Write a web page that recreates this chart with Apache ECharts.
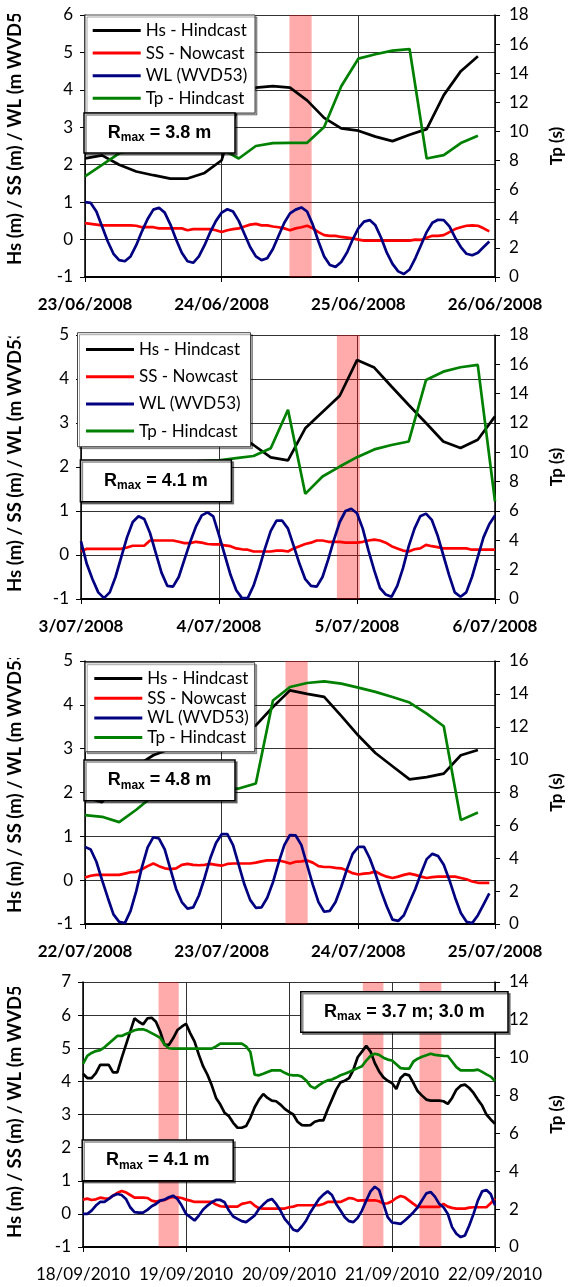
<!DOCTYPE html>
<html><head><meta charset="utf-8">
<script src="https://cdn.jsdelivr.net/npm/echarts@6/dist/echarts.min.js"></script>
<style>html,body{margin:0;padding:0;background:#fff}#c{width:573px;height:1287px}</style>
</head><body><div id="c"></div><script>
const SERIES_NAMES = ['Hs - Hindcast','SS - Nowcast','WL (WVD53)','Tp - Hindcast'];
const SERIES_COLORS = ['#000000','#ff0000','#000080','#008000'];
const LEFT_TITLE = 'Hs (m) / SS (m) / WL (m WVD53)';
const RIGHT_TITLE = 'Tp (s)';

// ---------- Panel 1 (23/06/2008 - 26/06/2008) ----------
const P1_DATES = ['23/06/2008','24/06/2008','25/06/2008','26/06/2008'];
const P1_HS = [2.17,2.25,2.0,1.82,1.72,1.63,1.63,1.78,2.12,3.64,4.06,4.1,4.06,3.72,3.25,2.97,2.91,2.75,2.63,2.8,2.95,3.86,4.5,4.9]; // 3-hourly
const P1_TP = [6.92,7.7,8.5,8.8,9.0,9.1,9.0,8.9,8.8,8.14,9.0,9.2,9.22,9.22,10.3,13.1,15.0,15.3,15.55,15.66,8.14,8.37,9.2,9.7]; // 3-hourly
const P1_SS = [0.44,0.42,0.4,0.38,0.38,0.38,0.38,0.38,0.38,0.37,
 0.33,0.33,0.33,0.3,0.3,0.3,0.3,0.3,0.25,0.28,
 0.28,0.28,0.28,0.25,0.2,0.25,0.28,0.3,0.35,0.4,
 0.42,0.38,0.38,0.35,0.33,0.3,0.25,0.3,0.33,0.37,
 0.3,0.2,0.12,0.1,0.1,0.07,0.05,0.03,0.0,-0.03,
 -0.03,-0.03,-0.03,-0.03,-0.03,-0.03,-0.03,-0.03,0.0,-0.01,
 0.05,0.1,0.1,0.12,0.2,0.28,0.33,0.37,0.38,0.37,
 0.3,0.22]; // hourly
const P1_WL = [1.0,0.98,0.75,0.35,-0.05,-0.38,-0.55,-0.58,-0.45,-0.15,
 0.22,0.55,0.8,0.85,0.72,0.4,0.0,-0.35,-0.58,-0.62,
 -0.45,-0.15,0.2,0.5,0.72,0.81,0.75,0.5,0.15,-0.2,
 -0.45,-0.55,-0.5,-0.25,0.1,0.45,0.7,0.8,0.86,0.75,
 0.4,-0.05,-0.45,-0.68,-0.73,-0.6,-0.35,0.0,0.3,0.48,
 0.52,0.38,0.05,-0.35,-0.65,-0.85,-0.92,-0.8,-0.5,-0.15,
 0.2,0.45,0.53,0.52,0.35,0.05,-0.2,-0.38,-0.42,-0.35,
 -0.2,-0.05]; // hourly
const P1_BANDS = [[35.9,39.8]]; // hours

// ---------- Panel 2 (3/07/2008 - 6/07/2008) ----------
const P2_DATES = ['3/07/2008','4/07/2008','5/07/2008','6/07/2008'];
const P2_HS = [2.9,3.0,3.1,3.1,3.0,2.95,2.9,2.85,2.8,2.75,2.5,2.22,2.15,2.88,3.25,3.62,4.43,4.26,3.83,3.41,3.0,2.58,2.43,2.62,3.15];
const P2_TP = [9.0,9.1,9.2,9.2,9.3,9.3,9.35,9.4,9.45,9.6,9.75,10.28,12.9,7.17,8.35,9.03,9.67,10.2,10.5,10.74,14.93,15.5,15.8,15.96,6.65];
const P2_SS = [0.08,0.14,0.14,0.14,0.14,0.14,0.14,0.14,0.17,0.21,
 0.21,0.21,0.33,0.33,0.33,0.33,0.33,0.3,0.27,0.27,
 0.3,0.28,0.25,0.24,0.24,0.22,0.2,0.15,0.13,0.12,
 0.08,0.08,0.08,0.08,0.1,0.1,0.08,0.15,0.2,0.25,
 0.28,0.33,0.33,0.3,0.3,0.3,0.28,0.28,0.28,0.3,
 0.33,0.35,0.33,0.28,0.2,0.15,0.1,0.08,0.13,0.15,
 0.23,0.2,0.18,0.15,0.15,0.15,0.15,0.15,0.12,0.12,
 0.12,0.12,0.12];
const P2_WL = [0.31,-0.2,-0.55,-0.85,-0.98,-0.85,-0.5,-0.05,0.4,0.75,
 0.88,0.82,0.5,0.05,-0.4,-0.7,-0.72,-0.5,-0.1,0.3,
 0.65,0.9,0.97,0.88,0.45,0.0,-0.45,-0.8,-0.98,-0.98,
 -0.7,-0.3,0.15,0.55,0.78,0.78,0.6,0.2,-0.2,-0.55,
 -0.7,-0.72,-0.5,-0.1,0.35,0.75,1.0,1.05,0.95,0.6,
 0.1,-0.35,-0.75,-0.9,-0.95,-0.7,-0.3,0.2,0.6,0.88,
 0.94,0.8,0.45,0.0,-0.45,-0.85,-0.95,-0.85,-0.5,-0.05,
 0.4,0.7,0.9];
const P2_BANDS = [[44.5,48.5]];

// ---------- Panel 3 (22/07/2008 - 25/07/2008) ----------
const P3_DATES = ['22/07/2008','23/07/2008','24/07/2008','25/07/2008'];
const P3_HS = [1.9,1.78,2.2,2.6,2.85,3.0,3.1,3.2,3.3,3.4,3.53,3.95,4.33,4.25,4.18,3.75,3.3,2.9,2.6,2.3,2.35,2.43,2.85,2.97];
const P3_TP = [6.62,6.52,6.2,6.95,7.8,8.0,8.3,8.3,8.25,8.24,8.55,13.6,14.42,14.66,14.76,14.62,14.38,14.12,13.81,13.47,12.8,12.03,6.32,6.78];
const P3_SS = [0.06,0.1,0.12,0.12,0.12,0.12,0.12,0.15,0.18,0.19,
 0.25,0.32,0.38,0.32,0.27,0.25,0.27,0.35,0.37,0.35,
 0.34,0.35,0.37,0.35,0.33,0.37,0.38,0.38,0.38,0.38,
 0.4,0.43,0.45,0.45,0.45,0.42,0.38,0.42,0.43,0.45,
 0.4,0.32,0.3,0.3,0.28,0.27,0.22,0.16,0.13,0.15,
 0.16,0.2,0.13,0.08,0.05,0.08,0.12,0.15,0.12,0.08,
 0.05,0.07,0.08,0.08,0.08,0.08,0.05,0.02,-0.03,-0.06,
 -0.06,-0.06];
const P3_WL = [0.76,0.7,0.42,0.0,-0.4,-0.78,-0.95,-0.98,-0.7,-0.25,
 0.3,0.75,0.98,0.95,0.7,0.25,-0.2,-0.5,-0.65,-0.62,
 -0.35,0.05,0.5,0.85,1.05,1.05,0.8,0.35,-0.1,-0.45,
 -0.63,-0.62,-0.4,-0.05,0.4,0.8,1.03,1.02,0.8,0.35,
 -0.1,-0.5,-0.72,-0.7,-0.5,-0.15,0.25,0.6,0.76,0.76,
 0.5,0.15,-0.25,-0.6,-0.9,-0.93,-0.8,-0.5,-0.2,0.15,
 0.48,0.6,0.55,0.35,0.0,-0.4,-0.75,-0.95,-0.98,-0.8,
 -0.55,-0.3];
const P3_BANDS = [[35.2,39.1]];

// ---------- Panel 4 (18/09/2010 - 22/09/2010), hourly ----------
const P4_DATES = ['18/09/2010','19/09/2010','20/09/2010','21/09/2010','22/09/2010'];
const P4_HS = [4.23,4.1,4.1,4.25,4.5,4.5,4.5,4.27,4.27,4.7,
 5.1,5.5,5.9,5.8,5.72,5.9,5.92,5.8,5.5,5.1,
 5.1,5.3,5.55,5.65,5.74,5.45,5.2,4.8,4.45,4.2,
 3.88,3.5,3.3,3.05,2.95,2.75,2.6,2.6,2.65,2.9,
 3.22,3.45,3.62,3.5,3.42,3.4,3.3,3.17,3.08,3.0,
 2.78,2.68,2.67,2.68,2.78,2.82,2.82,3.15,3.45,3.75,
 3.97,4.02,4.1,4.35,4.73,4.9,5.07,4.9,4.55,4.3,
 4.12,4.02,3.95,3.77,4.1,4.22,4.18,3.95,3.7,3.57,
 3.45,3.42,3.42,3.42,3.4,3.32,3.5,3.75,3.87,3.9,
 3.8,3.65,3.45,3.27,3.0,2.85,2.72];
const P4_TP = [9.68,10.1,10.25,10.35,10.4,10.55,10.75,10.95,11.15,11.15,
 11.25,11.35,11.45,11.5,11.5,11.42,11.3,11.18,11.05,10.7,
 10.5,10.48,10.48,10.48,10.48,10.48,10.48,10.48,10.48,10.48,
 10.48,10.6,10.74,10.74,10.74,10.74,10.74,10.74,10.6,10.3,
 9.1,9.07,9.15,9.25,9.33,9.33,9.33,9.2,9.1,9.07,
 9.07,9.0,8.8,8.5,8.38,8.55,8.7,8.8,8.85,8.95,
 9.07,9.15,9.25,9.35,9.45,9.55,9.85,10.1,10.21,10.15,
 10.0,9.9,9.85,9.65,9.45,9.42,9.42,9.8,9.95,10.05,
 10.13,10.21,10.15,10.12,10.1,10.09,9.8,9.5,9.33,9.33,
 9.33,9.33,9.37,9.25,9.12,9.0,8.77];
const P4_SS = [0.43,0.46,0.42,0.44,0.49,0.47,0.46,0.55,0.63,0.69,
 0.65,0.57,0.49,0.49,0.49,0.48,0.4,0.37,0.4,0.42,
 0.48,0.51,0.5,0.48,0.43,0.4,0.36,0.36,0.36,0.36,
 0.36,0.28,0.23,0.22,0.22,0.22,0.22,0.3,0.33,0.36,
 0.25,0.17,0.16,0.16,0.16,0.16,0.16,0.16,0.2,0.22,
 0.26,0.26,0.26,0.26,0.26,0.26,0.3,0.36,0.36,0.36,
 0.36,0.42,0.48,0.46,0.4,0.41,0.41,0.41,0.41,0.38,
 0.31,0.32,0.38,0.48,0.54,0.5,0.4,0.3,0.21,0.21,
 0.21,0.21,0.21,0.21,0.3,0.22,0.18,0.16,0.16,0.16,
 0.19,0.2,0.2,0.2,0.2,0.32,0.46];
const P4_WL = [0.0,0.0,0.1,0.25,0.36,0.36,0.45,0.55,0.6,0.57,
 0.45,0.2,0.05,0.04,0.04,0.12,0.23,0.3,0.4,0.43,
 0.5,0.55,0.45,0.25,0.0,-0.1,-0.2,-0.05,0.13,0.25,
 0.35,0.42,0.42,0.35,0.1,-0.08,-0.15,-0.22,-0.25,-0.15,
 -0.05,0.15,0.28,0.4,0.45,0.3,0.1,-0.15,-0.3,-0.48,
 -0.52,-0.38,-0.2,0.05,0.25,0.45,0.58,0.68,0.57,0.3,
 0.1,-0.1,-0.22,-0.25,-0.12,0.1,0.4,0.68,0.82,0.72,
 0.31,-0.1,-0.26,-0.28,-0.3,-0.2,-0.08,0.05,0.2,0.41,
 0.62,0.66,0.52,0.3,0.2,0.0,-0.4,-0.6,-0.7,-0.65,
 -0.35,0.0,0.4,0.68,0.72,0.6,0.26];
const P4_BANDS = [[17.6,22.3],[65.2,70.0],[78.4,83.5]];

// Rmax annotations (text values)
const RMAX_TEXT = [['3.8 m'],['4.1 m'],['4.8 m'],['4.1 m','3.7 m; 3.0 m']];

// ---------- layout (positions only) ----------
const PANELS = [
 {dates:P1_DATES, hours:72, hs:P1_HS, hsStep:3, tp:P1_TP, tpStep:3, ss:P1_SS, wl:P1_WL, bands:P1_BANDS,
  yL:[-1,6], yR:[0,18], grid:{left:85,top:15,width:423,height:262}, bold:true,
  legend:{left:92.7, top:22, gap:5.6}, legendBox:[85,15,170,98],
  rbox:[[84,113,151,40]], titleY:265, clipY:14},
 {dates:P2_DATES, hours:72, hs:P2_HS, hsStep:3, tp:P2_TP, tpStep:3, ss:P2_SS, wl:P2_WL, bands:P2_BANDS,
  yL:[-1,5], yR:[0,18], grid:{left:81,top:335,width:431,height:264}, bold:true,
  legend:{left:86, top:341, gap:10.2}, legendBox:[77.5,332.7,173,114],
  rbox:[[80.4,460,151,41.7]], titleY:592, clipY:336.5},
 {dates:P3_DATES, hours:72, hs:P3_HS, hsStep:3, tp:P3_TP, tpStep:3, ss:P3_SS, wl:P3_WL, bands:P3_BANDS,
  yL:[-1,5], yR:[0,16], grid:{left:85,top:661,width:424,height:263}, bold:true,
  legend:{left:94.3, top:670, gap:2.7}, legendBox:[85.2,662.7,169.5,89],
  rbox:[[84,760,151,40.7]], titleY:913, clipY:658},
 {dates:P4_DATES, hours:96, hs:P4_HS, hsStep:1, tp:P4_TP, tpStep:1, ss:P4_SS, wl:P4_WL, bands:P4_BANDS,
  yL:[-1,7], yR:[0,14], grid:{left:83,top:982,width:428,height:265}, bold:false,
  legend:null, legendBox:null,
  rbox:[[82.2,1140,151,40.7],[300.8,991.7,207.2,40.6]], titleY:1238, clipY:987}
];

const FONT = 'Lato';
function pairs(vals, step){ return vals.map((v,i)=>[i*step, v]); }

const option = {
  animation:false, backgroundColor:'#fff',
  textStyle:{fontFamily:FONT},
  grid:[], xAxis:[], yAxis:[], series:[], legend:[], graphic:[]
};

PANELS.forEach((p,i)=>{
  option.grid.push(Object.assign({containLabel:false}, p.grid));
  option.xAxis.push({
    type:'value', gridIndex:i, min:0, max:p.hours, interval:24,
    axisLine:{show:true, onZero:false, lineStyle:{color:'#000', width:2}},
    axisTick:{show:true, length:5, lineStyle:{color:'#000', width:1}},
    axisLabel:{formatter:(v)=>p.dates[Math.round(v/24)], fontFamily:FONT, fontSize:17,
      fontWeight:p.bold?'bold':'normal', color:'#000', margin:19, showMinLabel:true, showMaxLabel:true},
    splitLine:{show:true, lineStyle:{color:'#333', width:1}}
  });
  option.yAxis.push({
    type:'value', gridIndex:i, position:'left', min:p.yL[0], max:p.yL[1], interval:1,
    axisLine:{show:true, onZero:false, lineStyle:{color:'#000', width:1.5}},
    axisTick:{show:true, length:5, lineStyle:{color:'#000'}},
    axisLabel:{fontFamily:FONT, fontSize:17, color:'#000', margin:12},
    splitLine:{show:true, lineStyle:{color:'#333', width:1}}
  });
  option.yAxis.push({
    type:'value', gridIndex:i, position:'right', min:p.yR[0], max:p.yR[1], interval:2,
    axisLine:{show:true, onZero:false, lineStyle:{color:'#000', width:1.5}},
    axisTick:{show:true, length:5, lineStyle:{color:'#000'}},
    axisLabel:{fontFamily:FONT, fontSize:17, color:'#000', margin:14},
    splitLine:{show:false},
    name:RIGHT_TITLE, nameLocation:'middle', nameRotate:90, nameGap:53,
    nameTextStyle:{fontFamily:FONT, fontSize:17, fontWeight:'bold', color:'#000'}
  });
  const yl = 2*i, yr = 2*i+1;
  const mk = (name, color, data, yIdx) => ({
    type:'line', name, xAxisIndex:i, yAxisIndex:yIdx, data, showSymbol:false, symbol:'none',
    lineStyle:{color, width:2.7}, itemStyle:{color}, z:2, silent:true
  });
  option.series.push(mk(SERIES_NAMES[0], SERIES_COLORS[0], pairs(p.hs,p.hsStep), yl));
  option.series.push(mk(SERIES_NAMES[1], SERIES_COLORS[1], pairs(p.ss,1), yl));
  option.series.push(mk(SERIES_NAMES[2], SERIES_COLORS[2], pairs(p.wl,1), yl));
  option.series.push(mk(SERIES_NAMES[3], SERIES_COLORS[3], pairs(p.tp,p.tpStep), yr));
  option.series.push({
    type:'line', name:'band'+i, xAxisIndex:i, yAxisIndex:yl, data:[], z:5, silent:true,
    markArea:{silent:true, itemStyle:{color:'rgba(255,0,0,0.33)'},
      data:p.bands.map(b=>[{xAxis:b[0]},{xAxis:b[1]}])}
  });
  if (p.legend){
    option.legend.push({
      orient:'vertical', left:p.legend.left, top:p.legend.top, itemWidth:48, itemHeight:3,
      itemGap:p.legend.gap, icon:'rect', padding:0, z:60, selectedMode:false,
      textStyle:{fontFamily:FONT, fontSize:17, color:'#000'},
      data:SERIES_NAMES
    });
    const b = p.legendBox;
    option.graphic.push({type:'rect', z:50, shape:{x:b[0],y:b[1],width:b[2],height:b[3]},
      style:{fill:'#fff', stroke:'#444', lineWidth:1, shadowColor:'rgba(0,0,0,0.35)', shadowOffsetX:2, shadowOffsetY:2, shadowBlur:0}});
  }
  p.rbox.forEach((b,k)=>{
    option.graphic.push({type:'rect', z:50, shape:{x:b[0],y:b[1],width:b[2],height:b[3]},
      style:{fill:'#fff', stroke:'#000', lineWidth:1.5, shadowColor:'rgba(0,0,0,0.45)', shadowOffsetX:2, shadowOffsetY:2, shadowBlur:0}});
    option.graphic.push({type:'text', z:52, x:b[0]+b[2]/2, y:b[1]+b[3]/2,
      style:{text:'{r|R}{s|max}{r| = '+RMAX_TEXT[i][k]+'}', align:'center', verticalAlign:'middle',
        textAlign:'center', textVerticalAlign:'middle',
        rich:{r:{fontFamily:'Liberation Sans', fontWeight:'bold', fontSize:18, lineHeight:22, fill:'#000', verticalAlign:'middle'},
              s:{fontFamily:'Liberation Sans', fontWeight:'bold', fontSize:12, lineHeight:12, fill:'#000', verticalAlign:'bottom'}}}});
  });
  // left axis title (rotated), clipped at its top like the original
  option.graphic.push({type:'text', z:40, x:15, y:p.titleY, rotation:Math.PI/2,
    style:{text:LEFT_TITLE, font:'bold 18.5px '+FONT, fill:'#000', align:'left', verticalAlign:'middle',
      textAlign:'left', textVerticalAlign:'middle'}});
  option.graphic.push({type:'rect', z:45, shape:{x:0, y:p.clipY-45, width:31, height:45}, style:{fill:'#fff'}});
});

const chart = echarts.init(document.getElementById('c'), null, {renderer:'canvas'});
chart.setOption(option);
</script></body></html>
